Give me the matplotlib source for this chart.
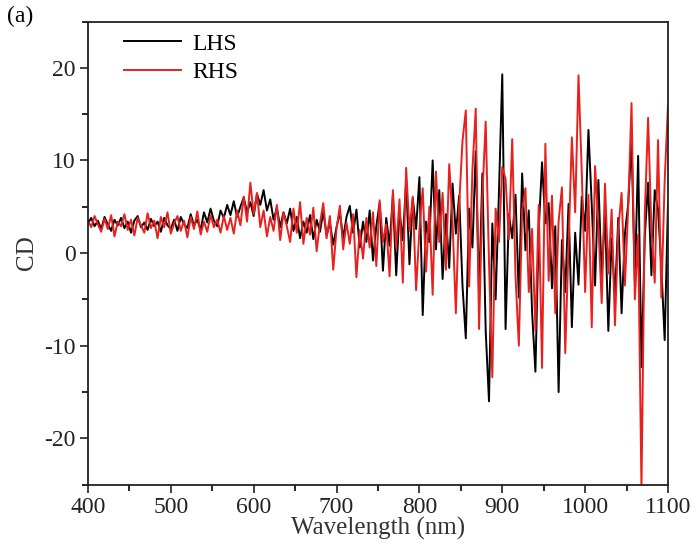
import numpy as np
import matplotlib
matplotlib.use('Agg')
import matplotlib.pyplot as plt
from matplotlib.ticker import MultipleLocator

plt.rcParams['font.family'] = ['Liberation Serif', 'DejaVu Serif']
plt.rcParams['axes.unicode_minus'] = False

# wavelength grid (nm), 4 nm step
wavelength = np.arange(400, 1101, 4)

# LHS (black)
lhs = [
    3.2, 3.8, 2.9, 3.5, 2.6, 3.9, 3.1, 2.4, 3.6, 3.0,
    3.8, 2.7, 3.4, 2.2, 3.5, 4.0, 2.8, 3.3, 2.5, 3.7,
    2.9, 3.4, 2.3, 3.8, 3.0, 2.6, 3.6, 2.4, 3.9, 3.1,
    2.7, 4.2, 3.0, 3.6, 2.5, 4.4, 3.3, 4.8, 3.5, 2.9,
    4.6,
    3.8, 5.2, 4.1, 5.6, 3.9, 5.0, 6.0, 4.4, 5.5, 4.0,
    6.4, 5.2, 6.8, 4.6, 5.8, 3.6, 4.9, 2.8, 4.4, 3.2,
    4.8, 2.4, 3.9, 1.6, 3.4, 2.2, 4.1, 1.5, 3.6, 2.3,
    4.5, 1.9, 3.3, 0.9,
    2.8, 4.4, 1.6, 3.9, 5.1, 2.2, 4.7, 0.6, 3.4, 1.2,
    4.6, -0.8, 2.9, 5.4, -1.9, 3.8, 0.8, 6.2, -2.4, 4.5,
    1.4, 7.8, -1.2, 5.9, 2.6, 8.2,
    -6.7, 3.4, 1.2, 10.0, 0.4, 6.8, -2.8, 4.2, -1.6, 7.5,
    2.1, 6.2, -3.5, -9.2, 4.8, 0.6, 11.0, -4.5, 8.6, -8.4,
    -16.0, 3.2, -5.0, 6.6, 19.3,
    -8.2, 4.2, 1.6, 6.3, -4.8, 8.6, 0.3, 4.6, -6.4, -12.8,
    2.5, 9.8, 3.2, 5.4, -3.8, 2.9, -15.0, 1.4, -4.2, 5.3,
    -8.0, 2.2, -3.4, 6.1, 2.4,
    13.3, 5.2, -3.5, 7.9, -2.6, 4.5, -8.4, 1.6, -4.8, 3.8,
    -6.5, 2.1, 5.3, 12.1, -3.0, 10.5, -12.3, 1.8, 7.6, -2.4,
    6.8, 4.7, -1.5, -9.4, 5.4,
]

# RHS (red)
rhs = [
    3.5, 2.8, 4.0, 3.1, 2.3, 3.7, 2.6, 4.1, 1.8, 3.4,
    2.9, 4.2, 2.5, 3.6, 1.9, 3.8, 3.0, 2.2, 4.3, 2.7,
    3.5, 1.6, 3.9, 2.8, 4.4, 2.1, 3.2, 4.0, 2.4, 3.5,
    1.7, 3.9, 2.6, 4.5, 2.0, 3.4, 2.3, 4.1, 2.8, 3.6,
    2.2,
    4.0, 2.5, 3.8, 2.1, 4.6, 3.0, 6.1, 3.4, 7.6, 4.2,
    6.5, 2.8, 4.6, 1.8, 3.9, 2.4, 5.2, 1.4, 4.4, 2.9,
    1.2, 4.8, 2.2, 5.5, 1.0, 3.8, 2.0, 4.9, 0.2, 3.2,
    5.4, 1.6, 4.0, -1.8,
    2.6, 5.1, 0.4, 3.3, 1.0, 4.2, -2.6, 2.5, -0.6, 3.8,
    0.6, 4.4, -1.4, 5.7, 1.2, 3.1, -2.5, 6.8, 0.5, 5.8,
    -3.2, 9.2, 2.4, 6.1, -4.0, 2.5,
    7.0, -2.0, 5.0, -4.5, 8.8, 1.2, 6.5, -1.8, 9.6, 3.4,
    -6.5, 5.2, 12.1, 15.4, -3.6, 9.0, 15.6, -8.2, 6.1, 14.2,
    -1.0, -13.4, 4.8, 1.2, 9.3,
    8.0, 1.5, 12.3, -2.5, -10.0, 4.6, 7.0, -4.2, 2.6, -8.4,
    5.2, -12.4, 11.8, -3.0, 6.2, -6.5, 3.4, 7.1, -10.8, 1.0,
    12.5, 4.4, 19.2, 8.6, -4.2,
    6.3, -8.0, 9.4, 3.0, -5.4, 7.5, -2.2, 4.7, -7.8, 2.6,
    6.5, -3.5, 5.0, 16.2, -5.0, 2.0, -25.5, 4.2, 14.6, 2.5,
    -3.2, 12.2, -4.8, 7.8, 16.0,
]

fig = plt.figure(figsize=(6.98, 5.52), dpi=100)
ax = fig.add_axes([0.126, 0.122, 0.831, 0.839])

ax.plot(wavelength, lhs, color='black', linewidth=1.4, label='LHS')
ax.plot(wavelength, rhs, color='#e8201e', linewidth=1.4, label='RHS')

ax.set_xlim(400, 1100)
ax.set_ylim(-25, 25)
ax.set_xticks(np.arange(400, 1101, 100))
ax.set_yticks([-20, -10, 0, 10, 20])
ax.xaxis.set_minor_locator(MultipleLocator(50))
ax.yaxis.set_minor_locator(MultipleLocator(5))
ax.tick_params(which='major', direction='out', length=6, width=1.2, labelsize=17,
               colors='#222222', pad=3)
ax.tick_params(which='minor', direction='out', length=4, width=1.2)
for s in ax.spines.values():
    s.set_linewidth(1.3)
    s.set_color('#222222')

ax.set_xlabel('Wavelength (nm)', fontsize=18, labelpad=-1, color='#333333')
ax.set_ylabel('CD', fontsize=18, labelpad=4, color='#333333')

ax.legend(loc='upper left', bbox_to_anchor=(0.062, 0.975), frameon=False,
          fontsize=17, handlelength=2.4, handletextpad=0.5, labelspacing=0.3,
          borderpad=0, borderaxespad=0)

fig.text(0.01, 0.99, '(a)', fontsize=17, va='top', ha='left')

fig.savefig('out.png', dpi=100)
